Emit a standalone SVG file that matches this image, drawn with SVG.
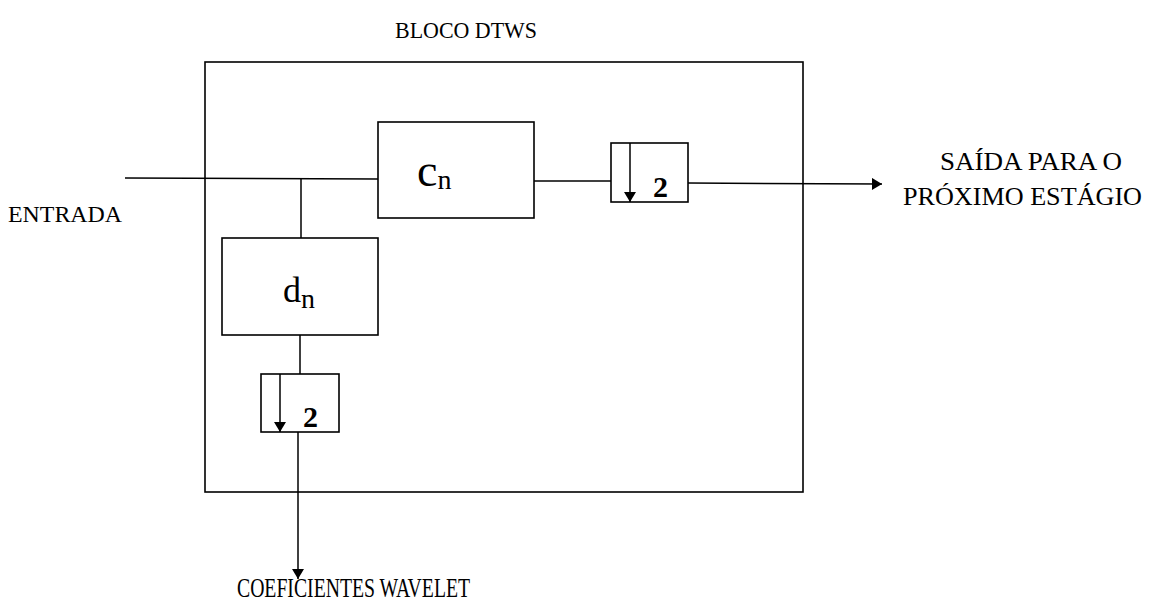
<svg xmlns="http://www.w3.org/2000/svg" width="1152" height="601" viewBox="0 0 1152 601">
<style>
.box{fill:none;stroke:#000;stroke-width:1.6}
.ln{fill:none;stroke:#000;stroke-width:1.5}
text{font-family:"Liberation Serif","Times New Roman",serif;fill:#000}
.lbl{font-size:24px}
.lbl2{font-size:26px}
.two{font-size:30px;font-weight:bold}
</style>
<defs>
<marker id="ah" viewBox="0 0 10 12" refX="10" refY="6" markerWidth="11" markerHeight="12" markerUnits="userSpaceOnUse" orient="auto">
<path d="M0,0 L10,6 L0,12 Z" fill="#000"/>
</marker>
</defs>
<rect width="1152" height="601" fill="#fff"/>
<text class="lbl" x="395" y="38" textLength="142" lengthAdjust="spacingAndGlyphs">BLOCO DTWS</text>
<g id="bloco"><rect class="box" x="205" y="62" width="598" height="430"/></g>
<g id="connectors">
<line class="ln" x1="125" y1="178" x2="378" y2="179"/>
<line class="ln" x1="301" y1="178" x2="301" y2="238"/>
<line class="ln" x1="534" y1="181" x2="611" y2="181"/>
<line class="ln" x1="688" y1="183" x2="882" y2="184" marker-end="url(#ah)"/>
<line class="ln" x1="300" y1="335" x2="300" y2="374"/>
<line class="ln" x1="298" y1="432" x2="298" y2="579" marker-end="url(#ah)"/>
</g>
<g id="cn">
<rect class="box" x="378" y="122" width="156" height="96"/>
<text x="417" y="186" font-family="Liberation Serif, serif"><tspan font-size="46">c</tspan><tspan font-size="28" dy="3">n</tspan></text>
</g>
<g id="dn">
<rect class="box" x="222" y="238" width="156" height="97"/>
<text x="283" y="302" font-family="Liberation Serif, serif"><tspan font-size="36">d</tspan><tspan font-size="28" dy="6">n</tspan></text>
</g>
<g id="down1">
<rect class="box" x="611" y="143" width="77" height="59"/>
<line class="ln" x1="630" y1="143" x2="630" y2="202" marker-end="url(#ah)"/>
<text class="two" x="653" y="197" font-family="Liberation Serif, serif">2</text>
</g>
<g id="down2">
<rect class="box" x="261" y="374" width="78" height="58"/>
<line class="ln" x1="280" y1="374" x2="280" y2="432" marker-end="url(#ah)"/>
<text class="two" x="303" y="427" font-family="Liberation Serif, serif">2</text>
</g>
<text class="lbl" x="8" y="222" textLength="114" lengthAdjust="spacingAndGlyphs">ENTRADA</text>
<text class="lbl2" x="940" y="170" textLength="182" lengthAdjust="spacingAndGlyphs">SAÍDA PARA O</text>
<text class="lbl2" x="903" y="205" textLength="239" lengthAdjust="spacingAndGlyphs">PRÓXIMO ESTÁGIO</text>
<text x="237" y="597" font-size="28" textLength="233" lengthAdjust="spacingAndGlyphs">COEFICIENTES WAVELET</text>
</svg>
